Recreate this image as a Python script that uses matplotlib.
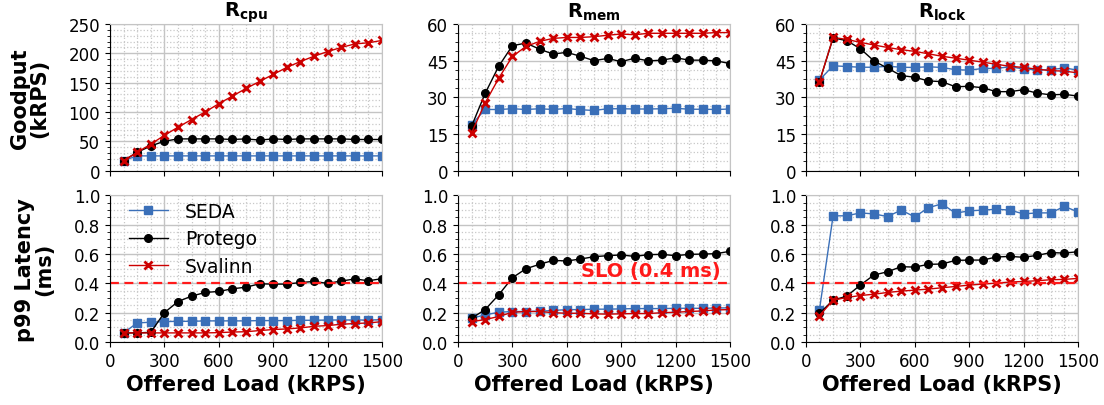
import matplotlib
matplotlib.use("Agg")
import matplotlib.pyplot as plt
import numpy as np
from matplotlib.ticker import AutoMinorLocator, MultipleLocator

# offered load (kRPS)
load = np.arange(75, 1501, 75)

# goodput (kRPS)
cpu_seda = [17, 25, 25, 25, 25, 25, 25, 25, 25, 25, 25, 25, 25, 25, 25, 25, 25, 25, 25, 25]
cpu_protego = [17, 31, 42, 50, 54, 54, 54, 54, 53, 54, 52, 54, 53, 54, 54, 54, 54, 53, 53, 53]
cpu_svalinn = [17, 31, 45, 60, 74, 87, 100, 114, 127, 140, 152, 164, 176, 186, 195, 203, 210, 216, 218, 222]

mem_seda = [18.8, 25.0, 25.0, 25.3, 25.0, 25.3, 25.0, 25.4, 24.9, 24.6, 25.3, 25.3, 25.2, 25.2, 25.3, 25.5, 25.1, 25.1, 25.0, 25.2]
mem_protego = [18.1, 31.6, 42.7, 51.1, 52.2, 49.7, 47.7, 48.4, 46.8, 45.0, 45.9, 44.6, 46.0, 44.9, 45.2, 46.2, 45.2, 45.2, 44.9, 43.8]
mem_svalinn = [15.4, 27.7, 37.8, 46.7, 50.8, 52.9, 54.1, 54.5, 54.5, 54.8, 55.4, 55.9, 55.6, 56.2, 56.2, 56.2, 56.2, 56.2, 56.5, 56.5]

lock_seda = [37.1, 42.9, 42.6, 42.3, 42.3, 42.7, 42.3, 42.2, 42.5, 42.2, 41.3, 41.1, 41.8, 41.8, 42.5, 41.6, 41.2, 41.3, 42.0, 41.1]
lock_protego = [36.4, 54.3, 53.2, 49.9, 44.9, 41.9, 38.9, 38.2, 36.7, 36.4, 34.3, 34.5, 33.9, 32.3, 32.3, 33.1, 31.7, 31.0, 31.2, 30.5]
lock_svalinn = [36.4, 54.5, 53.7, 52.5, 51.4, 50.4, 49.5, 48.8, 47.8, 46.8, 46.0, 45.2, 44.4, 43.5, 42.7, 42.2, 41.5, 40.9, 40.7, 40.0]

# p99 latency (ms)
cpu_lat_seda = [0.062, 0.130, 0.135, 0.139, 0.141, 0.141, 0.144, 0.144, 0.144, 0.144, 0.146, 0.146, 0.146, 0.148, 0.148, 0.150, 0.150, 0.150, 0.150, 0.152]
cpu_lat_protego = [0.062, 0.062, 0.066, 0.200, 0.276, 0.313, 0.338, 0.345, 0.363, 0.374, 0.397, 0.395, 0.395, 0.406, 0.413, 0.400, 0.416, 0.430, 0.418, 0.432]
cpu_lat_svalinn = [0.062, 0.062, 0.062, 0.062, 0.062, 0.062, 0.062, 0.064, 0.068, 0.070, 0.078, 0.085, 0.089, 0.096, 0.107, 0.112, 0.121, 0.126, 0.130, 0.139]

mem_lat_seda = [0.162, 0.185, 0.203, 0.208, 0.208, 0.210, 0.215, 0.221, 0.221, 0.224, 0.224, 0.226, 0.228, 0.228, 0.228, 0.230, 0.230, 0.230, 0.232, 0.233]
mem_lat_protego = [0.162, 0.221, 0.322, 0.438, 0.500, 0.530, 0.557, 0.553, 0.566, 0.582, 0.589, 0.594, 0.584, 0.596, 0.598, 0.589, 0.598, 0.600, 0.603, 0.619]
mem_lat_svalinn = [0.139, 0.153, 0.174, 0.203, 0.208, 0.208, 0.200, 0.196, 0.196, 0.192, 0.190, 0.192, 0.194, 0.194, 0.200, 0.203, 0.208, 0.212, 0.219, 0.221]

lock_lat_seda = [0.221, 0.861, 0.861, 0.881, 0.874, 0.856, 0.900, 0.854, 0.916, 0.943, 0.879, 0.895, 0.900, 0.906, 0.900, 0.874, 0.881, 0.881, 0.925, 0.888]
lock_lat_protego = [0.196, 0.285, 0.313, 0.388, 0.457, 0.479, 0.514, 0.511, 0.530, 0.532, 0.557, 0.559, 0.559, 0.580, 0.584, 0.578, 0.591, 0.610, 0.607, 0.616]
lock_lat_svalinn = [0.180, 0.285, 0.304, 0.317, 0.326, 0.338, 0.347, 0.354, 0.361, 0.370, 0.379, 0.388, 0.395, 0.402, 0.409, 0.413, 0.418, 0.425, 0.427, 0.434]

slo = 0.4
titles = [r"$\mathbf{R_{cpu}}$", r"$\mathbf{R_{mem}}$", r"$\mathbf{R_{lock}}$"]

goodput = [
    (cpu_seda, cpu_protego, cpu_svalinn),
    (mem_seda, mem_protego, mem_svalinn),
    (lock_seda, lock_protego, lock_svalinn),
]
latency = [
    (cpu_lat_seda, cpu_lat_protego, cpu_lat_svalinn),
    (mem_lat_seda, mem_lat_protego, mem_lat_svalinn),
    (lock_lat_seda, lock_lat_protego, lock_lat_svalinn),
]
gp_max = [250, 60, 60]
gp_step = [50, 15, 15]

names = ["SEDA", "Protego", "Svalinn"]
colors = ["#3a6fb8", "black", "#cc0000"]
markers = ["s", "o", "x"]
msizes = [6, 5.5, 6]

fig, axes = plt.subplots(2, 3, figsize=(11.04, 4.06), dpi=100, sharex=True)
fig.subplots_adjust(left=0.0996, right=0.9764, top=0.9384, bottom=0.1552,
                    wspace=0.279, hspace=0.17)


def style(ax):
    ax.set_xlim(0, 1500)
    ax.xaxis.set_major_locator(MultipleLocator(300))
    ax.xaxis.set_minor_locator(AutoMinorLocator())
    ax.yaxis.set_minor_locator(AutoMinorLocator())
    ax.grid(which="major", color="#c4c4c4", lw=1.0)
    ax.grid(which="minor", color="#c8c8c8", lw=0.9, ls=":")
    ax.set_axisbelow(True)
    ax.tick_params(labelsize=12)
    ax.tick_params(axis="x", which="minor", length=0)
    ax.tick_params(axis="y", which="minor", length=2)
    for s in ["top", "right"]:
        ax.spines[s].set_color("#c4c4c4")


for i in range(3):
    ax = axes[0, i]
    for j in range(3):
        ax.plot(load, goodput[i][j], color=colors[j], marker=markers[j],
                ms=msizes[j], lw=1, mew=2 if markers[j] == "x" else 1)
    ax.set_ylim(0, gp_max[i])
    ax.yaxis.set_major_locator(MultipleLocator(gp_step[i]))
    ax.set_title(titles[i], fontsize=14, pad=5)
    style(ax)

    ax = axes[1, i]
    for j in range(3):
        ax.plot(load, latency[i][j], color=colors[j], marker=markers[j],
                ms=msizes[j], lw=1, mew=2 if markers[j] == "x" else 1,
                label=names[j])
    ax.axhline(slo, color="#ff1a1a", ls="--", lw=1.6, dashes=(4, 2.5))
    ax.set_ylim(0, 1.0)
    ax.yaxis.set_major_locator(MultipleLocator(0.2))
    ax.set_xlabel("Offered Load (kRPS)", fontsize=15, fontweight="bold",
                  labelpad=3)
    style(ax)

axes[1, 1].text(1450, 0.425, "SLO (0.4 ms)", color="#ff1a1a", fontsize=14,
                fontweight="bold", ha="right", va="bottom")
axes[1, 0].legend(loc="upper left", bbox_to_anchor=(0.02, 1.045),
                  frameon=False, fontsize=13.5, handlelength=2.1,
                  handletextpad=0.9, borderaxespad=0.3, labelspacing=0.45)

axes[0, 0].set_ylabel("Goodput\n(kRPS)", fontsize=15, fontweight="bold",
                      linespacing=0.95, labelpad=14)
axes[1, 0].set_ylabel("p99 Latency\n(ms)", fontsize=15, fontweight="bold",
                      linespacing=0.95, labelpad=14)

fig.savefig("out.png", dpi=100)
